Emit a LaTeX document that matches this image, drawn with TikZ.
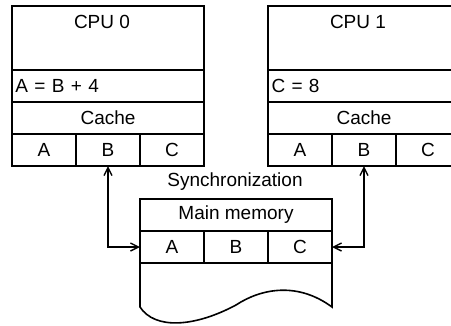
\documentclass[tikz,border=0pt]{standalone}
\usepackage{fontspec}
\setmainfont{Liberation Sans}
\usetikzlibrary{arrows.meta}
\begin{document}
\begin{tikzpicture}[x=1pt,y=-1pt,
  every node/.style={font=\fontsize{19}{22}\selectfont, outer sep=0pt},
  ln/.style={line width=1.6pt},
  cell/.style={draw, ln, minimum width=64pt, minimum height=32pt, inner sep=0pt},
  toprow/.style={draw, ln, minimum width=192pt, minimum height=64pt, inner sep=0pt},
  row/.style={draw, ln, minimum width=192pt, minimum height=32pt, inner sep=0pt},
  leftrow/.style={draw, ln, text width=185pt, inner xsep=3.5pt, inner ysep=0pt, minimum height=32pt, align=left},
  arr/.style={line width=1.4pt, {Straight Barb[length=8pt,width=8pt]}-{Straight Barb[length=8pt,width=8pt]}}
]
\useasboundingbox (0,0) rectangle (451,325);
% CPU 0
\node[toprow] (cpu0) at (108,38) {};
\node (cpu0lbl) at (102,22) {CPU 0};
\node[leftrow] (reg0) at (108,86) {A = B + 4};
\node[row] (cache0) at (108,118) {Cache};
\node[cell] (c0a) at (44,150) {A};
\node[cell] (c0b) at (108,150) {B};
\node[cell] (c0c) at (172,150) {C};
% CPU 1
\node[toprow] (cpu1) at (364,38) {};
\node (cpu1lbl) at (358,22) {CPU 1};
\node[leftrow] (reg1) at (364,86) {C = 8};
\node[row] (cache1) at (364,118) {Cache};
\node[cell] (c1a) at (300,150) {A};
\node[cell] (c1b) at (364,150) {B};
\node[cell] (c1c) at (428,150) {C};
% Synchronization
\node (sync) at (235,182) {Synchronization};
% Main memory
\node[row] (mem) at (236,215) {Main memory};
\node[cell] (mA) at (172,247) {A};
\node[cell] (mB) at (236,247) {B};
\node[cell] (mC) at (300,247) {C};
\draw[ln, line join=miter] (mA.south west) -- (140,307)
  .. controls (155,330) and (195,327) .. (236,305)
  .. controls (262,288) and (298,282) .. (332,307) -- (mC.south east);
% arrows
\draw[arr] (c0b.south) |- (mA.west);
\draw[arr] (c1b.south) |- (mC.east);
\end{tikzpicture}
\end{document}
